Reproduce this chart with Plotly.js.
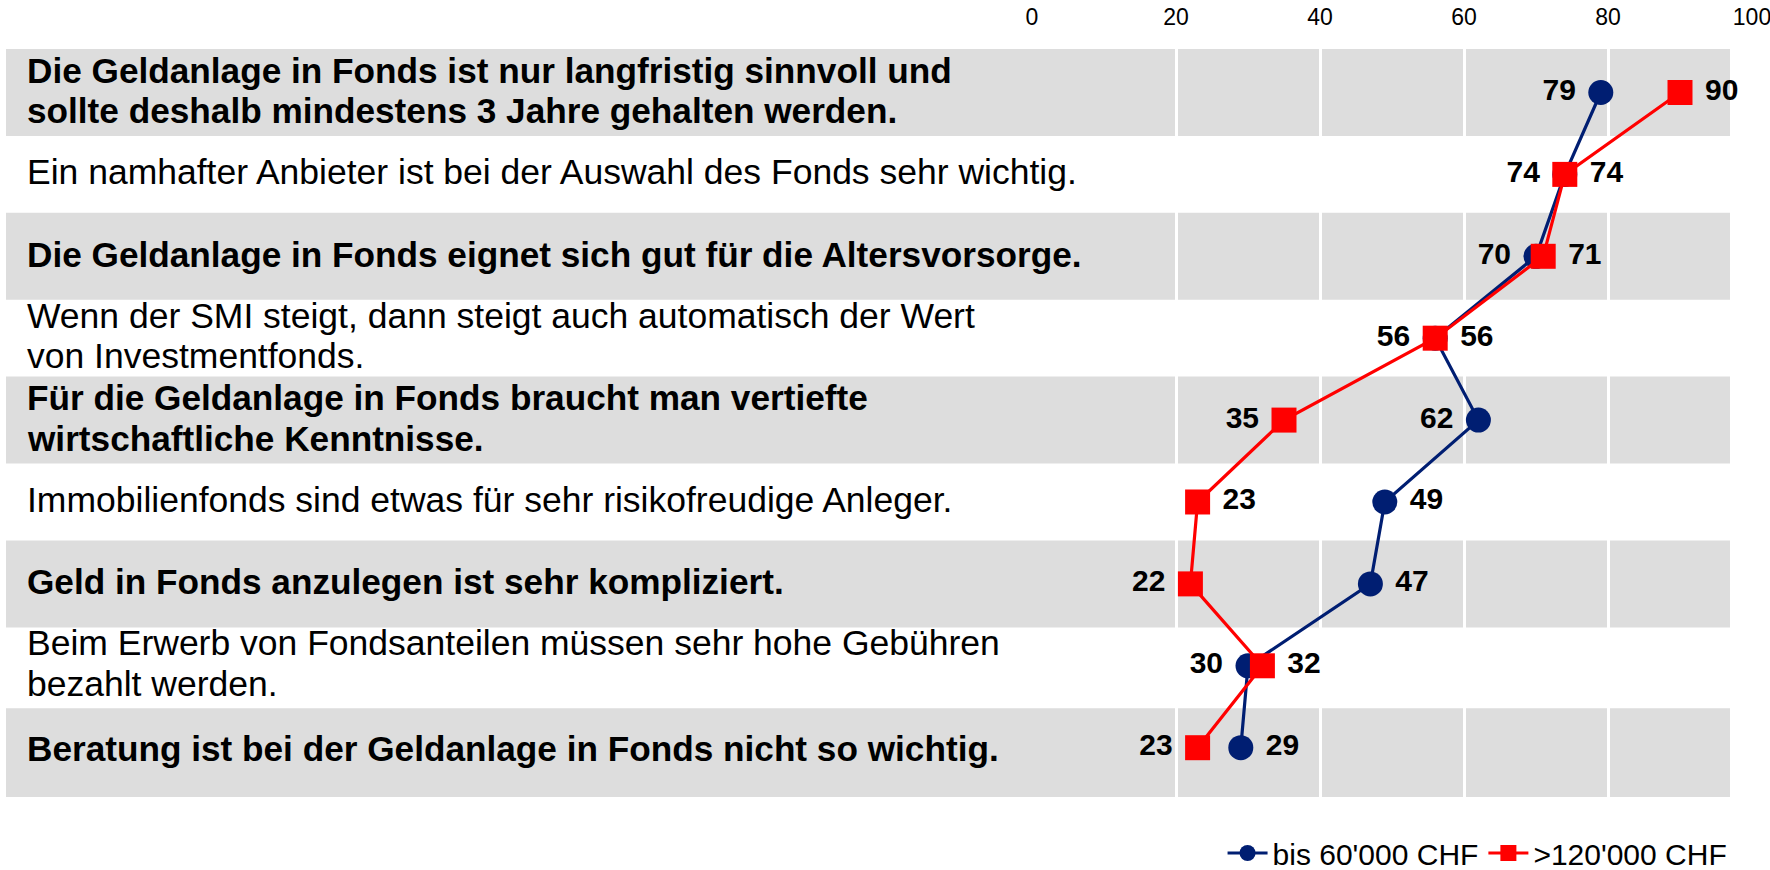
<!DOCTYPE html>
<html>
<head>
<meta charset="utf-8">
<script src="https://cdn.plot.ly/plotly-3.0.1.min.js"></script>
<style>html,body{margin:0;padding:0;background:#fff;}#chart{width:1770px;height:870px;}</style>
</head>
<body>
<div id="chart"></div>
<script>
// ---- data ----
const categories = [
  "Die Geldanlage in Fonds ist nur langfristig sinnvoll und\nsollte deshalb mindestens 3 Jahre gehalten werden.",
  "Ein namhafter Anbieter ist bei der Auswahl des Fonds sehr wichtig.",
  "Die Geldanlage in Fonds eignet sich gut für die Altersvorsorge.",
  "Wenn der SMI steigt, dann steigt auch automatisch der Wert\nvon Investmentfonds.",
  "Für die Geldanlage in Fonds braucht man vertiefte\nwirtschaftliche Kenntnisse.",
  "Immobilienfonds sind etwas für sehr risikofreudige Anleger.",
  "Geld in Fonds anzulegen ist sehr kompliziert.",
  "Beim Erwerb von Fondsanteilen müssen sehr hohe Gebühren\nbezahlt werden.",
  "Beratung ist bei der Geldanlage in Fonds nicht so wichtig."
];
const seriesLowName = "bis 60'000 CHF";
const seriesHighName = ">120'000 CHF";
const seriesLow  = [79, 74, 70, 56, 62, 49, 47, 30, 29];
const seriesHigh = [90, 74, 71, 56, 35, 23, 22, 32, 23];
const xTicks = [0, 20, 40, 60, 80, 100];

// ---- styling ----
const W = 1770, H = 870;
const plotLeft = 1032, plotRight = 1752, plotTop = 49, plotBottom = 797;
const pw = plotRight - plotLeft;
const font = "Liberation Sans, Arial, sans-serif";
const blue = "#001E72", red = "#FF0000", band = "#DDDDDD";
const lowPos  = ['middle left','middle left','middle left','middle left','middle left','middle right','middle right','middle left','middle right'];
const highPos = ['middle right','middle right','middle right','middle right','middle left','middle right','middle left','middle right','middle left'];

const rowIdx = categories.map((c, i) => i);
// pad label on the side away from the marker
const padLabel = (v, pos) => pos.indexOf('left') >= 0 ? String(v) + ' ' : ' ' + String(v);

const traces = [
  {
    type: 'scatter', mode: 'lines+markers+text', name: seriesLowName,
    x: seriesLow, y: rowIdx, text: seriesLow.map((v, i) => padLabel(v, lowPos[i])), textposition: lowPos,
    textfont: {family: font, size: 30, color: '#000', weight: 'bold'},
    line: {color: blue, width: 3.2},
    marker: {symbol: 'circle', size: 25, color: blue},
    cliponaxis: false
  },
  {
    type: 'scatter', mode: 'lines+markers+text', name: seriesHighName,
    x: seriesHigh, y: rowIdx, text: seriesHigh.map((v, i) => padLabel(v, highPos[i])), textposition: highPos,
    textfont: {family: font, size: 30, color: '#000', weight: 'bold'},
    line: {color: red, width: 3.2},
    marker: {symbol: 'square', size: 25, color: red},
    cliponaxis: false
  }
];

const half = 0.531;
const yTop = -half, yBottom = 8.602;
const shapes = [];
const annotations = [];
const lineGap = 40.6;
categories.forEach((c, i) => {
  const banded = (i % 2 === 0);
  const last = (i === categories.length - 1);
  if (banded) {
    shapes.push({
      type: 'rect', layer: 'below', xref: 'paper', yref: 'y',
      x0: (6 - plotLeft) / pw, x1: (1730 - plotLeft) / pw,
      y0: i - half + (last ? 0.05 : 0), y1: last ? yBottom : i + half,
      fillcolor: band, line: {width: 0}
    });
  }
  const lines = c.split('\n');
  lines.forEach((ln, j) => {
    annotations.push({
      xref: 'paper', yref: 'y', x: (25 - plotLeft) / pw, y: i,
      xanchor: 'left', yanchor: 'middle',
      yshift: ((lines.length - 1) / 2 - j) * lineGap + 2 - (last ? 3 : 0),
      text: ln, showarrow: false,
      font: {family: font, size: banded ? 35.2 : 35.5, color: '#000', weight: banded ? 'bold' : 'normal'}
    });
  });
});

const layout = {
  width: W, height: H,
  margin: {l: plotLeft, r: W - plotRight, t: plotTop, b: H - plotBottom, pad: 0, autoexpand: false},
  paper_bgcolor: '#fff', plot_bgcolor: 'rgba(0,0,0,0)',
  showlegend: true,
  legend: {
    orientation: 'h', x: 0.973, xanchor: 'right', y: -56 / (plotBottom - plotTop), yanchor: 'middle',
    font: {family: font, size: 30, color: '#000'}, bgcolor: 'rgba(0,0,0,0)',
    itemwidth: 40, tracegroupgap: 0
  },
  xaxis: {
    side: 'top', range: [0, 100], tickvals: xTicks, ticktext: xTicks.map(String),
    showgrid: true, gridcolor: '#FFFFFF', gridwidth: 3, zeroline: false,
    showline: false, ticks: '', ticklabelstandoff: 18, ticklabeloverflow: 'allow',
    tickfont: {family: font, size: 23, color: '#000'}, fixedrange: true
  },
  yaxis: {
    range: [yBottom, yTop], showgrid: false, zeroline: false,
    showticklabels: false, ticks: '', showline: false, fixedrange: true
  },
  shapes: shapes,
  annotations: annotations
};

Plotly.newPlot('chart', traces, layout, {displayModeBar: false, staticPlot: true});
</script>
</body>
</html>
